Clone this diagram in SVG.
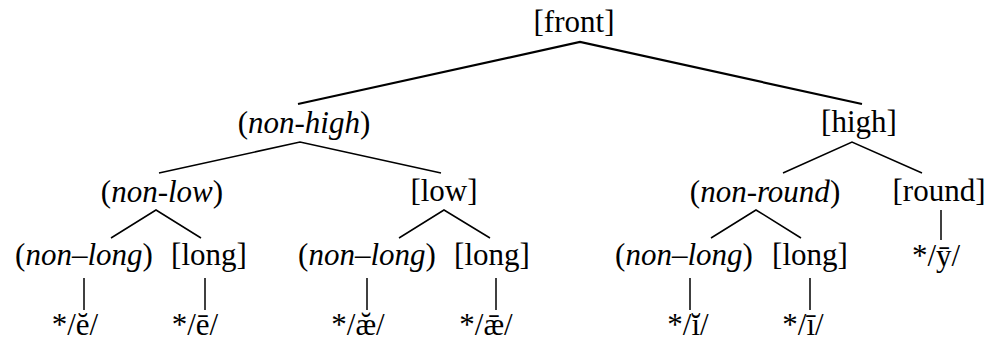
<svg xmlns="http://www.w3.org/2000/svg" width="987" height="341" viewBox="0 0 987 341">
<style>
text{font-size:31px;fill:#000;text-anchor:middle}
.i{font-style:italic}
.e{stroke:#000;stroke-width:1.5;fill:none}
.t{stroke:#000;stroke-width:2.2;fill:none}
</style>
<rect width="987" height="341" fill="#fff"/>
<g id="connectors">
<polyline class="t" points="298,104 580,42 862,104"/>
<polyline class="e" points="159,173 300,142 441,173"/>
<polyline class="e" points="783,173 852,142 922,173"/>
<polyline class="e" points="111,238 156,210 201,238"/>
<polyline class="e" points="399,238 444,210 490,238"/>
<polyline class="e" points="711,238 756,210 801,238"/>
<line class="e" x1="941" y1="210" x2="941" y2="240"/>
<line class="e" x1="84" y1="278" x2="84" y2="310"/>
<line class="e" x1="205" y1="278" x2="205" y2="310"/>
<line class="e" x1="367" y1="278" x2="367" y2="310"/>
<line class="e" x1="496" y1="278" x2="496" y2="310"/>
<line class="e" x1="690" y1="278" x2="690" y2="310"/>
<line class="e" x1="810" y1="278" x2="810" y2="310"/>
</g>
<g font-family="Liberation Serif">
<g id="front"><text x="574" y="32">[front]</text></g>
<g id="non-high"><text x="304" y="133">(<tspan class="i">non-high</tspan>)</text></g>
<g id="high"><text x="859" y="132">[high]</text></g>
<g id="non-low"><text x="162" y="202">(<tspan class="i">non-low</tspan>)</text></g>
<g id="low"><text x="444" y="201">[low]</text></g>
<g id="non-round"><text x="765" y="202">(<tspan class="i">non-round</tspan>)</text></g>
<g id="round"><text x="939" y="201">[round]</text></g>
<g id="y-long"><text x="936" y="266">*/ȳ/</text></g>
<g id="non-long-1"><text x="84" y="265">(<tspan class="i">non–long</tspan>)</text></g>
<g id="long-1"><text x="209" y="265">[long]</text></g>
<g id="non-long-2"><text x="367" y="265">(<tspan class="i">non–long</tspan>)</text></g>
<g id="long-2"><text x="492" y="265">[long]</text></g>
<g id="non-long-3"><text x="684" y="265">(<tspan class="i">non–long</tspan>)</text></g>
<g id="long-3"><text x="810" y="265">[long]</text></g>
<g id="e-short"><text x="75" y="335">*/ĕ/</text></g>
<g id="e-long"><text x="195" y="335">*/ē/</text></g>
<g id="ae-short"><text x="358" y="335">*/æ̆/</text></g>
<g id="ae-long"><text x="486" y="335">*/ǣ/</text></g>
<g id="i-short"><text x="688" y="335">*/ĭ/</text></g>
<g id="i-long"><text x="803" y="335">*/ī/</text></g>
</g>
</svg>
